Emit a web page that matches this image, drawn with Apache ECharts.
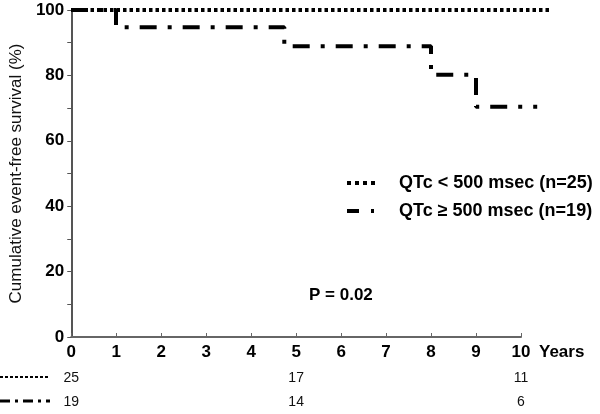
<!DOCTYPE html>
<html>
<head>
<meta charset="utf-8">
<script src="https://cdn.jsdelivr.net/npm/echarts@6/dist/echarts.min.js"></script>
<style>
  html, body { margin: 0; padding: 0; background: #fff; }
  #main { width: 600px; height: 414px; }
</style>
</head>
<body>
<div id="main"></div>
<script>
// Kaplan-Meier curves, years vs % event-free
const shortQtc = [[0, 100], [10.63, 100]];
const longQtc = [[0, 100], [1, 94.7], [4.74, 88.9], [8, 80.2], [9, 70.4], [10.36, 70.4]];
const seriesNames = ['QTc < 500 msec (n=25)', 'QTc \u2265 500 msec (n=19)'];
// numbers at risk at 0, 5, 10 years
const riskYears = [0, 5, 10];
const riskShort = [25, 17, 11];
const riskLong = [19, 14, 6];
const yTicks = [0, 20, 40, 60, 80, 100];

const font = 'Liberation Sans, Arial, sans-serif';
const dotDash = [17, 11, 4, 11];
const dotted = [3.5, 3];

function riskAxis(values, offset) {
  return {
    type: 'value', min: 0, max: 10, interval: 5, position: 'bottom', offset: offset, gridIndex: 0,
    axisLine: { show: false }, axisTick: { show: false }, splitLine: { show: false },
    axisLabel: {
      color: '#111', fontFamily: font, fontSize: 14, margin: 0,
      formatter: v => { const i = riskYears.indexOf(v); return i < 0 ? '' : String(values[i]); }
    }
  };
}

let myChart = echarts.init(document.getElementById('main'));
let option = {
  animation: false,
  // grid 0 holds the visible axes (0-10 yrs), grid 1 the curves on the same scale but up to 11 yrs
  grid: [
    { left: 71, width: 450, top: 10, bottom: 77 },
    { left: 71, width: 495, top: 10, bottom: 77 }
  ],
  title: {
    text: 'P = 0.02', left: 304, top: 282,
    textStyle: { fontFamily: font, fontSize: 17, fontWeight: 'bold', color: '#000' }
  },
  legend: {
    orient: 'vertical', left: 340, top: 169, itemWidth: 30, itemHeight: 14, itemGap: 10,
    data: [
      { name: seriesNames[0], lineStyle: { width: 4, type: [4, 4] } },
      { name: seriesNames[1], lineStyle: { width: 4, type: [12, 12, 3, 12] } }
    ],
    itemStyle: { opacity: 0 },
    textStyle: { fontFamily: font, fontSize: 18, fontWeight: 'bold', color: '#000', padding: [0, 0, 0, 17] }
  },
  xAxis: [{
    type: 'value', min: 0, max: 10, interval: 1, gridIndex: 0,
    name: 'Years', nameLocation: 'end', nameGap: 18,
    nameTextStyle: { fontFamily: font, fontSize: 17, fontWeight: 'bold', color: '#000', verticalAlign: 'top', padding: [7, 0, 0, 0] },
    axisLine: { lineStyle: { color: '#666', width: 2 } },
    axisTick: { inside: true, length: 4, lineStyle: { color: '#666' } },
    splitLine: { show: false },
    axisLabel: { color: '#000', fontFamily: font, fontSize: 17, fontWeight: 'bold', margin: 7 }
  }, riskAxis(riskShort, 34), riskAxis(riskLong, 58), {
    type: 'value', min: 0, max: 11, gridIndex: 1, show: false
  }],
  yAxis: [{
    type: 'value', min: 0, max: 100, interval: 20, gridIndex: 0,
    name: 'Cumulative event-free survival (%)', nameLocation: 'middle', nameGap: 46,
    nameTextStyle: { fontFamily: font, fontSize: 17, color: '#111' },
    axisLine: { show: true, lineStyle: { color: '#555', width: 2 } },
    axisTick: { show: true, length: 4, lineStyle: { color: '#555' } },
    minorTick: { show: true, splitNumber: 2, length: 4, lineStyle: { color: '#555' } },
    splitLine: { show: false },
    axisLabel: {
      color: '#000', fontFamily: font, fontSize: 17, fontWeight: 'bold', margin: 7,
      formatter: v => yTicks.indexOf(v) < 0 ? '' : String(v)
    }
  }, {
    type: 'value', min: 0, max: 100, gridIndex: 1, show: false
  }],
  series: [{
    name: seriesNames[0], type: 'line', step: 'end', data: shortQtc, xAxisIndex: 3, yAxisIndex: 1,
    symbol: 'none', z: 3,
    itemStyle: { color: '#000' },
    lineStyle: { color: '#000', width: 4, type: dotted }
  }, {
    name: seriesNames[1], type: 'line', step: 'end', data: longQtc, xAxisIndex: 3, yAxisIndex: 1,
    symbol: 'none', z: 2,
    itemStyle: { color: '#000' },
    lineStyle: { color: '#000', width: 4, type: dotDash }
  }],
  graphic: [
    { type: 'line', shape: { x1: 0, y1: 377, x2: 50, y2: 377 }, style: { stroke: '#000', lineWidth: 2, lineDash: [3, 2] } },
    { type: 'line', shape: { x1: 0, y1: 401, x2: 50, y2: 401 }, style: { stroke: '#000', lineWidth: 3, lineDash: [10, 5, 3, 5] } }
  ]
};
myChart.setOption(option);
</script>
</body>
</html>
